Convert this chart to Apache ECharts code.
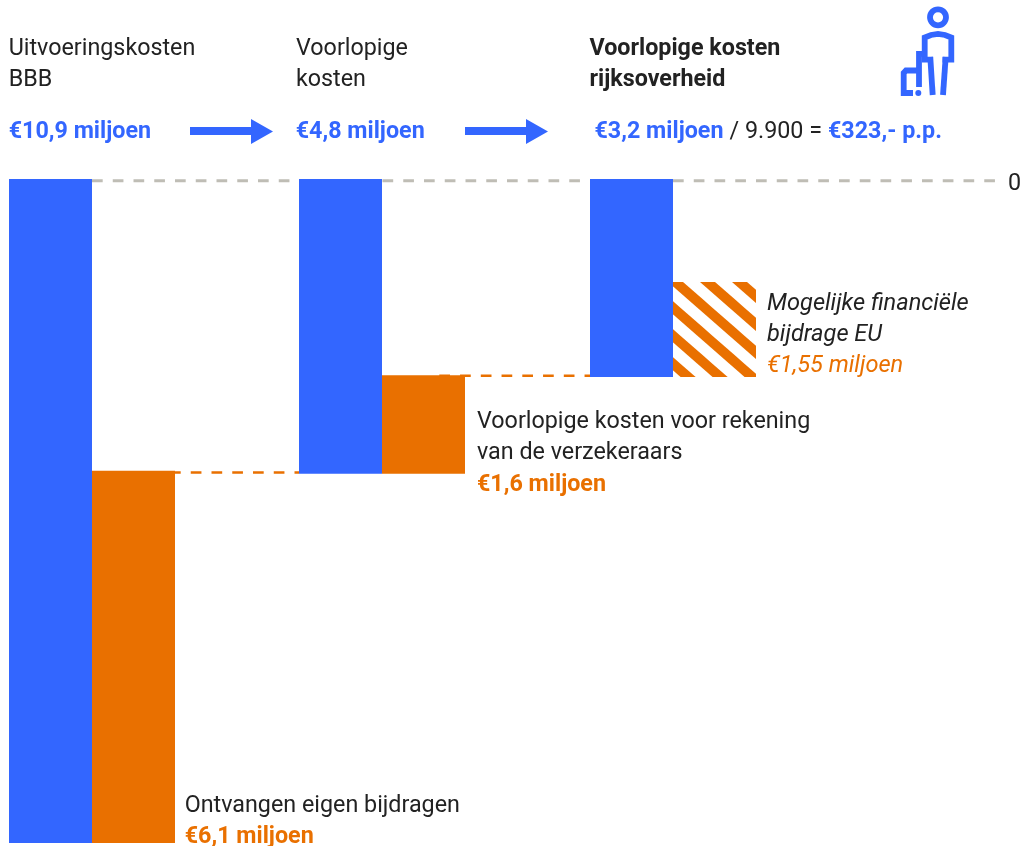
<!DOCTYPE html>
<html>
<head>
<meta charset="utf-8">
<title>Kosten BBB</title>
<script src="https://cdn.jsdelivr.net/npm/echarts@6/dist/echarts.min.js"></script>
<style>
	html, body { margin: 0; padding: 0; background: #fff; }
	#main { width: 1021px; height: 846px; }
</style>
</head>
<body>
<div id="main"></div>
<script>
// bedragen in miljoen euro
var categories = ['kosten', 'dekking'];
var blueValues = [10.9, 4.84, 3.25];
var orangeStart = [4.79, 3.22, 1.69];
var orangeValues = [6.11, 1.62, 1.56];
var zeroLine = 0.03;
var tickLabels = [0];

var blue = '#3366ff';
var orange = '#e97000';
var dark = '#222222';
var font = 'Roboto';

var myChart = echarts.init(document.getElementById('main'));

// gearceerd blok
var hatch = document.createElement('canvas');
hatch.width = 32;
hatch.height = 28;
var ctx = hatch.getContext('2d');
ctx.fillStyle = '#fff';
ctx.fillRect(0, 0, 32, 28);
ctx.strokeStyle = orange;
ctx.lineWidth = 9.9;
for (var i = -1; i <= 1; i++) {
	ctx.beginPath();
	ctx.moveTo(i * 32 + 1.2 - 32, -28);
	ctx.lineTo(i * 32 + 1.2 + 64, 56);
	ctx.stroke();
}

var gridLeft = [9, 299, 590];
var grids = [], xAxes = [], yAxes = [], series = [];

for (var g = 0; g < 3; g++) {
	grids.push({ left: gridLeft[g], top: 179, width: 166, height: 667, outerBoundsMode: 'none' });
	xAxes.push({ type: 'category', gridIndex: g, data: categories, show: false });
	yAxes.push({ type: 'value', gridIndex: g, inverse: true, min: 0, max: 10.95, show: false });
	series.push({
		type: 'bar', xAxisIndex: g, yAxisIndex: g, stack: 's' + g, barWidth: '100%', silent: true, z: 3,
		itemStyle: { color: 'transparent' },
		data: [0, orangeStart[g]]
	});
	series.push({
		type: 'bar', xAxisIndex: g, yAxisIndex: g, stack: 's' + g, barWidth: '100%', silent: true, z: 3,
		data: [
			{ value: blueValues[g], itemStyle: { color: blue } },
			{ value: orangeValues[g], itemStyle: { color: g == 2 ? { image: hatch, repeat: 'repeat' } : orange } }
		]
	});
}

// doorlopende hulplijnen
grids.push({ left: 0, top: 179, width: 1002, height: 667, outerBoundsMode: 'none' });
xAxes.push({ type: 'value', gridIndex: 3, min: 0, max: 1002, show: false });
yAxes.push({
	type: 'value', gridIndex: 3, inverse: true, min: 0, max: 10.95, position: 'right',
	axisLine: { show: false }, axisTick: { show: false }, splitLine: { show: false },
	axisLabel: { customValues: tickLabels, margin: 6, color: dark, fontFamily: font, fontSize: 23.3, verticalAlign: 'top', lineHeight: 10 }
});
function guide(from, to, value, color, width) {
	return {
		type: 'line', xAxisIndex: 3, yAxisIndex: 3, silent: true, symbol: 'none', z: 1,
		lineStyle: { color: color, width: width, type: [10.7, 10.05] },
		data: [[from, value], [to, value]]
	};
}
series.push(guide(92, 996, zeroLine, '#bfbdb5', 3));
series.push(guide(170, 299, orangeStart[0] + 0.03, orange, 2.5));
series.push(guide(439.3, 590, orangeStart[1] + 0.01, orange, 2.5));

function txt(x, y, s, color, weight, style) {
	return {
		type: 'text', x: x, y: y, silent: true,
		style: {
			text: s, fill: color || dark, verticalAlign: 'middle',
			font: (style || 'normal') + ' ' + (weight || 'normal') + (style ? ' 23.6px ' : ' 23.3px ') + font
		}
	};
}
function arrow(x) {
	return {
		type: 'polygon', silent: true,
		shape: { points: [[x, 127], [x + 61, 127], [x + 61, 119], [x + 83, 131.5], [x + 61, 144], [x + 61, 135], [x, 135]] },
		style: { fill: blue }
	};
}
function iconLine(d) {
	return { type: 'polyline', silent: true, shape: { points: d }, style: { stroke: blue, lineWidth: 5.8, fill: null } };
}

var option = {
	animation: false,
	backgroundColor: '#fff',
	grid: grids,
	xAxis: xAxes,
	yAxis: yAxes,
	series: series,
	graphic: [
		txt(8.7, 49, 'Uitvoeringskosten'),
		txt(8.7, 80, 'BBB'),
		txt(8.7, 132, '€10,9 miljoen', blue, 'bold'),
		arrow(190),
		txt(296, 49, 'Voorlopige'),
		txt(296, 80, 'kosten'),
		txt(295.7, 132, '€4,8 miljoen', blue, 'bold'),
		arrow(465),
		txt(589.5, 49, 'Voorlopige kosten', dark, 'bold'),
		txt(589.5, 80, 'rijksoverheid', dark, 'bold'),
		txt(594.5, 132, '€3,2 miljoen', blue, 'bold'),
		txt(729.5, 132, '/ 9.900 ='),
		txt(828, 132, '€323,- p.p.', blue, 'bold'),
		txt(767, 304, 'Mogelijke financiële', dark, 'normal', 'italic'),
		txt(767, 335, 'bijdrage EU', dark, 'normal', 'italic'),
		txt(767, 366, '€1,55 miljoen', orange, 'normal', 'italic'),
		txt(477, 422, 'Voorlopige kosten voor rekening'),
		txt(477, 453, 'van de verzekeraars'),
		txt(477, 485, '€1,6 miljoen', orange, 'bold'),
		txt(184.7, 806, 'Ontvangen eigen bijdragen'),
		txt(184.7, 837, '€6,1 miljoen', orange, 'bold'),
		// poppetje met koffer
		{ type: 'circle', silent: true, shape: { cx: 938, cy: 17.3, r: 8 }, style: { stroke: blue, lineWidth: 5.8, fill: null } },
		iconLine([[933, 59.7], [924.7, 59.7], [924.7, 37.5], [931, 35], [938, 34], [945, 35], [951.3, 37.5], [951.3, 59.7], [942.5, 59.7]]),
		iconLine([[930.3, 57], [932.7, 95]]),
		iconLine([[945.7, 57], [943, 95]]),
		iconLine([[919, 87], [919, 53.9], [925, 53.9]]),
		iconLine([[913, 93], [903.7, 93], [903.7, 73], [906, 70.5], [920, 70.5]]),
		{ type: 'circle', silent: true, shape: { cx: 918.3, cy: 93, r: 3 }, style: { fill: blue } }
	]
};

myChart.setOption(option);
</script>
</body>
</html>
